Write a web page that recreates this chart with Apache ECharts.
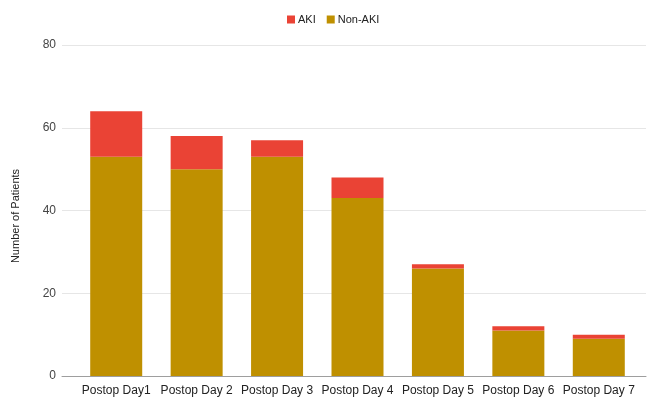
<!DOCTYPE html>
<html><head><meta charset="utf-8">
<script src="https://cdn.jsdelivr.net/npm/echarts@6/dist/echarts.min.js"></script>
<style>html,body{margin:0;padding:0;background:#fff}#c{width:648px;height:397px}</style>
</head><body><div id="c"></div>
<script>
const categories = ['Postop Day1','Postop Day 2','Postop Day 3','Postop Day 4','Postop Day 5','Postop Day 6','Postop Day 7'];
const nonAki = [53, 50, 53, 43, 26, 11, 9];
const aki = [11, 8, 4, 5, 1, 1, 1];
const yTicks = [0, 20, 40, 60, 80];
const yTitle = 'Number of Patients';

const chart = echarts.init(document.getElementById('c'));
const font = 'Liberation Sans, Arial, sans-serif';
const yMin = yTicks[0], yMax = yTicks[yTicks.length-1];
chart.setOption({
  animation: false,
  legend: {
    top: 14, left: 287, padding: 0, itemWidth: 8, itemHeight: 8, itemGap: 11,
    icon: 'rect',
    textStyle: { fontFamily: font, fontSize: 11, color: '#222', padding: [0,0,0,-2] },
    data: ['AKI', 'Non-AKI']
  },
  graphic: [{
    type: 'text', x: 16, y: 216, rotation: Math.PI / 2,
    style: { text: yTitle, fontFamily: font, fontSize: 11, fill: '#222', align: 'center', verticalAlign: 'middle' }
  }],
  grid: [
    { left: 62, right: 2, top: 45, bottom: 21, containLabel: false },
    { left: 76, right: 9, top: 45, bottom: 21, containLabel: false }
  ],
  xAxis: [
    { type: 'category', gridIndex: 0, data: categories,
      axisTick: { show: false }, axisLabel: { show: false },
      axisLine: { lineStyle: { color: '#9e9e9e', width: 1 } } },
    { type: 'category', gridIndex: 1, data: categories,
      axisTick: { show: false },
      axisLine: { show: false },
      axisLabel: { fontFamily: font, fontSize: 12, color: '#222', margin: 9, interval: 0 } }
  ],
  yAxis: [
    { type: 'value', gridIndex: 0, min: yMin, max: yMax, interval: 20,
      axisLine: { show: false }, axisTick: { show: false },
      axisLabel: { fontFamily: font, fontSize: 12, color: '#444', margin: 6 },
      splitLine: { lineStyle: { color: '#e6e6e6' } } },
    { type: 'value', gridIndex: 1, min: yMin, max: yMax, interval: 20, show: false }
  ],
  series: [
    { name: 'Non-AKI', type: 'bar', stack: 's', xAxisIndex: 1, yAxisIndex: 1, data: nonAki, barWidth: 52, itemStyle: { color: '#bf9000' } },
    { name: 'AKI', type: 'bar', stack: 's', xAxisIndex: 1, yAxisIndex: 1, data: aki, barWidth: 52, itemStyle: { color: '#ea4335' } }
  ]
});
</script></body></html>
